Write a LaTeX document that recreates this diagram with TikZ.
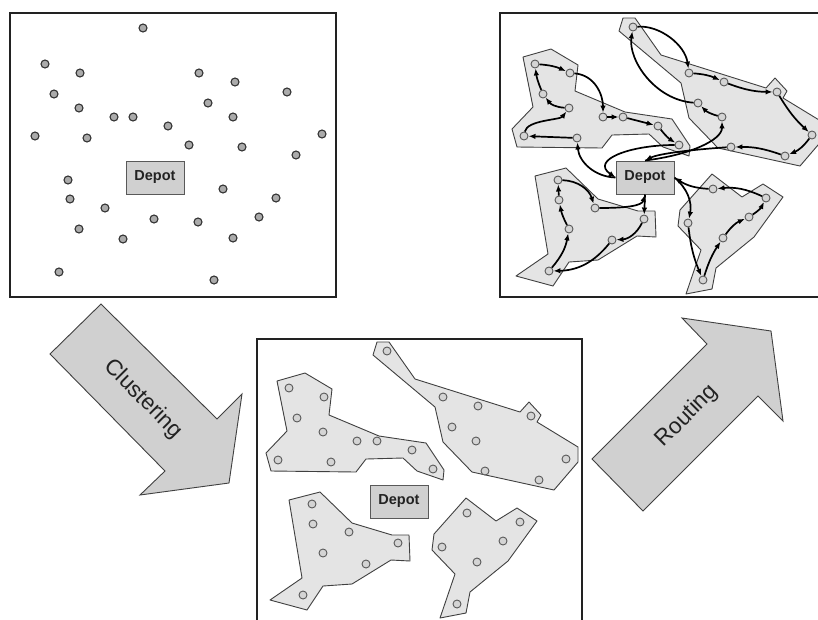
\documentclass[tikz,border=0pt]{standalone}
\usepackage{fontspec}
\setmainfont{Liberation Sans}
\usetikzlibrary{arrows.meta}
\definecolor{dotgray}{HTML}{ABABAB}
\definecolor{cdotgray}{HTML}{D4D4D4}
\definecolor{polygray}{HTML}{E4E4E4}
\definecolor{boxgray}{HTML}{D0D0D0}
\definecolor{inkgray}{HTML}{222222}
\tikzset{
  panelbox/.style={draw=inkgray, line width=1.8pt},
  pdot/.style={circle, fill=dotgray, draw=black!80, line width=1.1pt, minimum size=8pt, inner sep=0pt},
  cdot/.style={circle, fill=cdotgray, draw=black!65, line width=0.9pt, minimum size=8pt, inner sep=0pt},
  clusterpoly/.style={fill=polygray, draw=black!75, line width=0.9pt, line join=round},
  depotbox/.style={draw=black!65, fill=boxgray, line width=1pt, minimum width=58pt, minimum height=33pt, inner sep=0pt,
    font=\bfseries\fontsize{14.5}{14.5}\selectfont, text=inkgray},
  bigarrow/.style={fill=boxgray, draw=black!75, line width=0.9pt, line join=miter},
  arrowlabel/.style={font=\fontsize{22.5}{22.5}\selectfont, text=inkgray},
  route/.style={line width=1.7pt, -{Latex[length=7pt,width=5.5pt]}},
}
\newcommand{\clusterpolys}{%
  \filldraw[clusterpoly] (277,381) -- (305,373) -- (332,389) -- (329,415) -- (379,436) -- (426,443) -- (444,470) -- (443,480) -- (417,471) -- (403,458) -- (366,459) -- (356,472) -- (271,471) -- (266,453) -- (287,431) -- cycle;
  \filldraw[clusterpoly] (377,342) -- (389,342) -- (415,379) -- (520,412) -- (529,402) -- (541,415) -- (537,422) -- (578,447) -- (578,462) -- (554,490) -- (472,472) -- (443,442) -- (435,407) -- (373,355) -- cycle;
  \filldraw[clusterpoly] (289,500) -- (320,492) -- (352,523) -- (392,535) -- (409,535) -- (410,561) -- (391,560) -- (352,584) -- (323,586) -- (307,610) -- (270,600) -- (302,578) -- cycle;
  \filldraw[clusterpoly] (466,498) -- (496,521) -- (517,508) -- (537,521) -- (508,561) -- (470,592) -- (466,613) -- (440,618) -- (455,574) -- (432,550) -- (434,534) -- cycle;
}
\newcommand{\clusterdots}[1]{%
  \node[cdot] (#1a1) at (289,388) {};
  \node[cdot] (#1a2) at (324,397) {};
  \node[cdot] (#1a3) at (297,418) {};
  \node[cdot] (#1a4) at (323,432) {};
  \node[cdot] (#1a5) at (357,441) {};
  \node[cdot] (#1a6) at (377,441) {};
  \node[cdot] (#1a7) at (412,450) {};
  \node[cdot] (#1a8) at (278,460) {};
  \node[cdot] (#1a9) at (331,462) {};
  \node[cdot] (#1a10) at (433,469) {};
  \node[cdot] (#1b1) at (387,351) {};
  \node[cdot] (#1b2) at (443,397) {};
  \node[cdot] (#1b3) at (478,406) {};
  \node[cdot] (#1b4) at (531,416) {};
  \node[cdot] (#1b5) at (452,427) {};
  \node[cdot] (#1b6) at (476,441) {};
  \node[cdot] (#1b7) at (566,459) {};
  \node[cdot] (#1b8) at (485,471) {};
  \node[cdot] (#1b9) at (539,480) {};
  \node[cdot] (#1c1) at (312,504) {};
  \node[cdot] (#1c2) at (313,524) {};
  \node[cdot] (#1c3) at (349,532) {};
  \node[cdot] (#1c4) at (398,543) {};
  \node[cdot] (#1c5) at (323,553) {};
  \node[cdot] (#1c6) at (366,564) {};
  \node[cdot] (#1c7) at (303,595) {};
  \node[cdot] (#1d1) at (467,513) {};
  \node[cdot] (#1d2) at (520,522) {};
  \node[cdot] (#1d3) at (503,541) {};
  \node[cdot] (#1d4) at (442,547) {};
  \node[cdot] (#1d5) at (477,562) {};
  \node[cdot] (#1d6) at (457,604) {};
  \node[depotbox] (#1depot) at (399,501.5) {Depot};
}
\begin{document}
\begin{tikzpicture}[x=1pt,y=-1pt]
\useasboundingbox (0,0) rectangle (818,619);
\fill[white] (0,0) rectangle (818,619);
\clip (0,0) rectangle (818,619);

% ---------- panel 1: customers ----------
\draw[panelbox] (10,13) rectangle (336,297);
\node[pdot] (p1) at (143,28) {};
\node[pdot] (p2) at (45,64) {};
\node[pdot] (p3) at (80,73) {};
\node[pdot] (p4) at (199,73) {};
\node[pdot] (p5) at (235,82) {};
\node[pdot] (p6) at (54,94) {};
\node[pdot] (p7) at (287,92) {};
\node[pdot] (p8) at (79,108) {};
\node[pdot] (p9) at (208,103) {};
\node[pdot] (p10) at (114,117) {};
\node[pdot] (p11) at (133,117) {};
\node[pdot] (p12) at (233,117) {};
\node[pdot] (p13) at (168,126) {};
\node[pdot] (p14) at (35,136) {};
\node[pdot] (p15) at (87,138) {};
\node[pdot] (p16) at (322,134) {};
\node[pdot] (p17) at (189,145) {};
\node[pdot] (p18) at (242,147) {};
\node[pdot] (p19) at (296,155) {};
\node[pdot] (p20) at (68,180) {};
\node[pdot] (p21) at (223,189) {};
\node[pdot] (p22) at (70,199) {};
\node[pdot] (p23) at (276,198) {};
\node[pdot] (p24) at (105,208) {};
\node[pdot] (p25) at (154,219) {};
\node[pdot] (p26) at (198,222) {};
\node[pdot] (p27) at (259,217) {};
\node[pdot] (p28) at (79,229) {};
\node[pdot] (p29) at (123,239) {};
\node[pdot] (p30) at (233,238) {};
\node[pdot] (p31) at (59,272) {};
\node[pdot] (p32) at (214,280) {};
\node[depotbox] (pdepot) at (155,177.5) {Depot};

% ---------- panel 3: clusters ----------
\draw[panelbox] (257,339) rectangle (582,640);
\clusterpolys
\clusterdots{m}

% ---------- panel 2: routes ----------
\draw[panelbox] (500,13) rectangle (840,297);
\begin{scope}[shift={(246,-324)}]
  \clusterpolys
  \clusterdots{r}
\end{scope}

% route A
\draw[route] (rdepot.west) .. controls (595,177) and (579,162) .. (ra9);
\draw[route] (ra9) -- (ra8);
\draw[route] (ra8) .. controls (527,120) and (560,120) .. (ra4);
\draw[route] (ra4) to[bend left=25] (ra3);
\draw[route] (ra3) to[bend left=8] (ra1);
\draw[route] (ra1) to[bend left=10] (ra2);
\draw[route] (ra2) .. controls (595,75) and (603,95) .. (ra5);
\draw[route] (ra5) -- (ra6);
\draw[route] (ra6) -- (ra7);
\draw[route] (ra7) to[bend right=10] (ra10);
\draw[route] (ra10) .. controls (630,145) and (590,160) .. (rdepot.west);
% route B
\draw[route] (rdepot.north) .. controls (690,155) and (722,140) .. (rb6);
\draw[route] (rb6) to[bend left=15] (rb5);
\draw[route] (rb5) .. controls (655,100) and (628,60) .. (rb1);
\draw[route] (rb1) .. controls (660,25) and (685,45) .. (rb2);
\draw[route] (rb2) to[bend left=10] (rb3);
\draw[route] (rb3) to[bend right=10] (rb4);
\draw[route] (rb4) to[bend right=8] (rb7);
\draw[route] (rb7) to[bend left=15] (rb9);
\draw[route] (rb9) to[bend right=10] (rb8);
\draw[route] (rb8) .. controls (700,149) and (660,153) .. (rdepot.north);
% route C
\draw[route] (rdepot.south) -- (rc4);
\draw[route] (rc4) to[bend left=30] (rc6);
\draw[route] (rc6) to[bend left=25] (rc7);
\draw[route] (rc7) to[bend right=15] (rc5);
\draw[route] (rc5) to[bend left=8] (rc2);
\draw[route] (rc2) -- (rc1);
\draw[route] (rc1) to[bend left=35] (rc3);
\draw[route] (rc3) .. controls (625,208) and (642,206) .. (rdepot.south);
% route D
\draw[route] (rdepot.east) to[bend left=30] (rd4);
\draw[route] (rd4) to[bend right=8] (rd6);
\draw[route] (rd6) to[bend left=8] (rd5);
\draw[route] (rd5) to[bend left=15] (rd3);
\draw[route] (rd3) to[bend right=15] (rd2);
\draw[route] (rd2) to[bend right=15] (rd1);
\draw[route] (rd1) to[bend left=15] (rdepot.east);

% ---------- big arrows ----------
\filldraw[bigarrow] (50,354) -- (101,304) -- (217,419) -- (242,394) -- (229,483) -- (140,495) -- (165,471) -- cycle;
\node[arrowlabel, rotate=-45] (clab) at (143,399) {Clustering};
\filldraw[bigarrow] (592,459) -- (707,344) -- (682,318) -- (771,331) -- (783,421) -- (758,396) -- (643,511) -- cycle;
\node[arrowlabel, rotate=45] (rlab) at (687,416) {Routing};
\end{tikzpicture}
\end{document}
